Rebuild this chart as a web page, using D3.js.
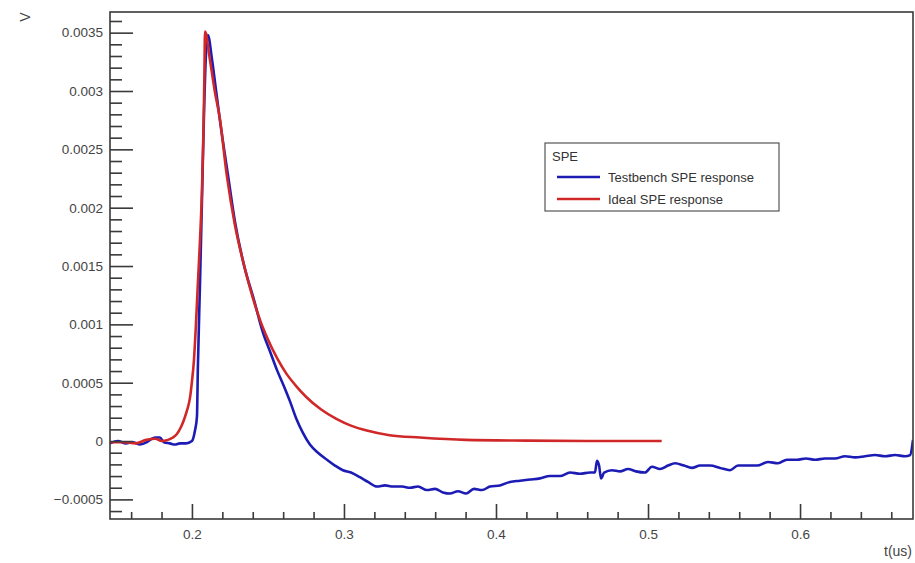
<!DOCTYPE html>
<html>
<head>
<meta charset="utf-8">
<script src="https://cdn.jsdelivr.net/npm/d3@7"></script>
<style>
  body { margin: 0; background: #fff; }
  svg { display: block; font-family: "Liberation Sans", Arial, sans-serif; }
</style>
</head>
<body>
<div id="app"></div>
<script>
// Testbench SPE response (blue)
const testbenchT = [0.1461, 0.1513, 0.1566, 0.1612, 0.1658, 0.1704, 0.1737, 0.1763, 0.1789, 0.1816,
  0.1855, 0.1888, 0.1921, 0.1961, 0.2000, 0.2020, 0.2033, 0.2039, 0.2053, 0.2066,
  0.2079, 0.2092, 0.2105, 0.2132, 0.2158, 0.2184, 0.2237, 0.2283, 0.2342, 0.2408,
  0.2467, 0.2513, 0.2559, 0.2605, 0.2645, 0.2684, 0.2730, 0.2776, 0.2829, 0.2888,
  0.2941, 0.2993, 0.3046, 0.3105, 0.3158, 0.3217, 0.3270, 0.3322, 0.3382, 0.3434,
  0.3487, 0.3546, 0.3599, 0.3651, 0.3697, 0.3750, 0.3803, 0.3855, 0.3908, 0.3961,
  0.4026, 0.4092, 0.4158, 0.4224, 0.4289, 0.4355, 0.4421, 0.4487, 0.4553, 0.4618,
  0.4651, 0.4664, 0.4678, 0.4691, 0.4711, 0.4763, 0.4816, 0.4868, 0.4921, 0.4980,
  0.5026, 0.5079, 0.5132, 0.5178, 0.5237, 0.5289, 0.5342, 0.5408, 0.5474, 0.5539,
  0.5592, 0.5651, 0.5717, 0.5789, 0.5855, 0.5914, 0.5980, 0.6039, 0.6099, 0.6164,
  0.6230, 0.6296, 0.6362, 0.6428, 0.6493, 0.6559, 0.6625, 0.6691, 0.6724, 0.6743];
const testbenchV = [-0.00002, 0.0, -0.00002, -0.00001, -0.00003, -0.00001, 0.00002, 0.00003, 0.00003, -0.00001,
  -0.00002, -0.00003, -0.00002, -0.00002, 0.0, 0.00009, 0.00021, 0.00063, 0.00135, 0.00207,
  0.00279, 0.00331, 0.00348, 0.00327, 0.00301, 0.00275, 0.00228, 0.00188, 0.00151, 0.00121,
  0.00093, 0.00077, 0.00061, 0.00047, 0.00034, 0.00020, 0.00007, -0.00003, -0.00010, -0.00016,
  -0.00021, -0.00025, -0.00027, -0.00031, -0.00035, -0.00039, -0.00038, -0.00039, -0.00039, -0.00040,
  -0.00039, -0.00042, -0.00041, -0.00044, -0.00045, -0.00043, -0.00045, -0.00041, -0.00042, -0.00039,
  -0.00038, -0.00035, -0.00034, -0.00033, -0.00032, -0.00030, -0.00030, -0.00027, -0.00028, -0.00027,
  -0.00027, -0.00017, -0.00021, -0.00032, -0.00027, -0.00025, -0.00026, -0.00024, -0.00026, -0.00027,
  -0.00022, -0.00024, -0.00021, -0.00019, -0.00021, -0.00023, -0.00021, -0.00021, -0.00023, -0.00025,
  -0.00021, -0.00021, -0.00021, -0.00018, -0.00019, -0.00016, -0.00016, -0.00015, -0.00016, -0.00015,
  -0.00015, -0.00013, -0.00014, -0.00013, -0.00012, -0.00013, -0.00012, -0.00013, -0.00012, 0.00001];

// Ideal SPE response (red)
const idealT = [0.1461, 0.1550, 0.1630, 0.1700, 0.1760, 0.1800, 0.1842, 0.1875, 0.1901, 0.1928,
  0.1947, 0.1967, 0.1987, 0.2000, 0.2013, 0.2026, 0.2039, 0.2053, 0.2066, 0.2076,
  0.2082, 0.2086, 0.2118, 0.2150, 0.2184, 0.2230, 0.2283, 0.2340, 0.2400, 0.2450,
  0.2500, 0.2560, 0.2620, 0.2680, 0.2750, 0.2850, 0.2950, 0.3050, 0.3150, 0.3300,
  0.3500, 0.3800, 0.4200, 0.4600, 0.5090];
const idealV = [-0.00001, -0.00001, -0.00002, 0.00001, 0.00002, 0.0, 0.00001, 0.00003, 0.00006, 0.00012,
  0.00018, 0.00026, 0.00037, 0.00051, 0.00069, 0.00099, 0.00135, 0.00172, 0.00215, 0.00267,
  0.00314, 0.00351, 0.00327, 0.00300, 0.00276, 0.00227, 0.00185, 0.00152, 0.00123, 0.00103,
  0.00087, 0.00071, 0.00058, 0.00048, 0.00038, 0.00027, 0.00019, 0.00013, 0.00009, 0.00005,
  0.00003, 0.00001, 0.000004, 0.000001, 0.0];

const xTicks = [0.2, 0.3, 0.4, 0.5, 0.6];
const xTickLabels = ['0.2', '0.3', '0.4', '0.5', '0.6'];
const xMinorTicks = [0.16, 0.18, 0.22, 0.24, 0.26, 0.28, 0.32, 0.34, 0.36, 0.38, 0.42, 0.44, 0.46, 0.48,
  0.52, 0.54, 0.56, 0.58, 0.62, 0.64, 0.66];
const yTicks = [-0.0005, 0, 0.0005, 0.001, 0.0015, 0.002, 0.0025, 0.003, 0.0035];
const yTickLabels = ['\u22120.0005', '0', '0.0005', '0.001', '0.0015', '0.002', '0.0025', '0.003', '0.0035'];
const yMinorTicks = [-0.0006, -0.0004, -0.0003, -0.0002, -0.0001, 0.0001, 0.0002, 0.0003, 0.0004,
  0.0006, 0.0007, 0.0008, 0.0009, 0.0011, 0.0012, 0.0013, 0.0014, 0.0016, 0.0017, 0.0018, 0.0019,
  0.0021, 0.0022, 0.0023, 0.0024, 0.0026, 0.0027, 0.0028, 0.0029, 0.0031, 0.0032, 0.0033, 0.0034, 0.0036];

const seriesNames = ['Testbench SPE response', 'Ideal SPE response'];
const seriesColors = ['#1c1cb4', '#d02828'];

const conf = {
  width: 915,
  height: 563,
  margin: { top: 12, right: 2, bottom: 44, left: 110 }
};

function main() {
  const svg = d3.select('#app').append('svg')
    .attr('width', conf.width)
    .attr('height', conf.height);

  const x = d3.scaleLinear()
    .domain([0.1461, 0.6743])
    .range([conf.margin.left, conf.width - conf.margin.right]);

  const y = d3.scaleLinear()
    .domain([-0.000668, 0.003677])
    .range([conf.height - conf.margin.bottom, conf.margin.top]);

  svg.append('clipPath').attr('id', 'frame')
    .append('rect')
    .attr('x', x.range()[0]).attr('y', y.range()[1])
    .attr('width', x.range()[1] - x.range()[0])
    .attr('height', y.range()[0] - y.range()[1]);

  // curves
  const line = d3.line()
    .curve(d3.curveMonotoneX)
    .x(d => x(d[0]))
    .y(d => y(d[1]));

  const testbench = testbenchT.map((t, i) => [t, testbenchV[i]]);
  const ideal = idealT.map((t, i) => [t, idealV[i]]);

  const curves = svg.append('g').attr('clip-path', 'url(#frame)');
  curves.append('path')
    .datum(testbench)
    .attr('d', line)
    .attr('fill', 'none')
    .attr('stroke', seriesColors[0])
    .attr('stroke-width', 2.6)
    .attr('stroke-linejoin', 'round');
  curves.append('path')
    .datum(ideal)
    .attr('d', line)
    .attr('fill', 'none')
    .attr('stroke', seriesColors[1])
    .attr('stroke-width', 2.6)
    .attr('stroke-linejoin', 'round');

  // axes, ticks pointing into the frame
  const axisColor = '#3a3a3a';
  svg.append('g')
    .attr('transform', `translate(${conf.margin.left},0)`)
    .call(d3.axisLeft(y).tickValues(yTicks).tickSize(-23).tickPadding(7)
      .tickFormat((d, i) => yTickLabels[i]));
  svg.append('g')
    .attr('transform', `translate(${conf.margin.left},0)`)
    .call(d3.axisLeft(y).tickValues(yMinorTicks).tickSize(-12).tickFormat(''));

  const xAxis = svg.append('g')
    .attr('transform', `translate(0,${conf.height - conf.margin.bottom})`)
    .call(d3.axisBottom(x).tickValues(xTicks).tickSize(-15).tickPadding(10)
      .tickFormat((d, i) => xTickLabels[i]));
  svg.append('g')
    .attr('transform', `translate(0,${conf.height - conf.margin.bottom})`)
    .call(d3.axisBottom(x).tickValues(xMinorTicks).tickSize(-7).tickFormat(''));

  svg.selectAll('.domain').remove();
  svg.selectAll('.tick line').attr('stroke', axisColor).attr('stroke-width', 1.6);
  svg.selectAll('.tick text')
    .attr('fill', '#444')
    .style('font-size', '13.5px')
    .style('font-family', '"Liberation Sans", Arial, sans-serif');
  xAxis.selectAll('.tick text').attr('dy', '0.71em');

  // frame
  svg.append('rect')
    .attr('x', x.range()[0]).attr('y', y.range()[1])
    .attr('width', x.range()[1] - x.range()[0])
    .attr('height', y.range()[0] - y.range()[1])
    .attr('fill', 'none')
    .attr('stroke', axisColor)
    .attr('stroke-width', 1.6);

  // axis titles
  svg.append('text')
    .attr('transform', 'translate(25,17) rotate(-90)')
    .attr('text-anchor', 'middle')
    .attr('dy', '0.35em')
    .attr('fill', '#444')
    .style('font-size', '14px')
    .text('V');

  svg.append('text')
    .attr('x', 912).attr('y', 556)
    .attr('text-anchor', 'end')
    .attr('fill', '#444')
    .style('font-size', '14px')
    .text('t(us)');

  // legend
  const legend = svg.append('g').attr('transform', 'translate(545,143)');
  legend.append('rect')
    .attr('width', 234).attr('height', 68)
    .attr('fill', '#fff')
    .attr('stroke', '#555')
    .attr('stroke-width', 1.2);
  legend.append('text')
    .attr('x', 7).attr('y', 18)
    .attr('fill', '#333')
    .style('font-size', '13px')
    .text('SPE');
  legend.selectAll('.entry')
    .data(seriesNames)
    .enter()
    .append('g')
    .attr('class', 'entry')
    .attr('transform', (d, i) => `translate(0,${34 + i * 22})`)
    .call(g => {
      g.append('line')
        .attr('x1', 12).attr('x2', 55)
        .attr('stroke', (d, i) => seriesColors[i])
        .attr('stroke-width', 2.6);
      g.append('text')
        .attr('x', 63).attr('dy', '0.35em')
        .attr('fill', '#333')
        .style('font-size', '13px')
        .text(d => d);
    });
}

main();
</script>
</body>
</html>
